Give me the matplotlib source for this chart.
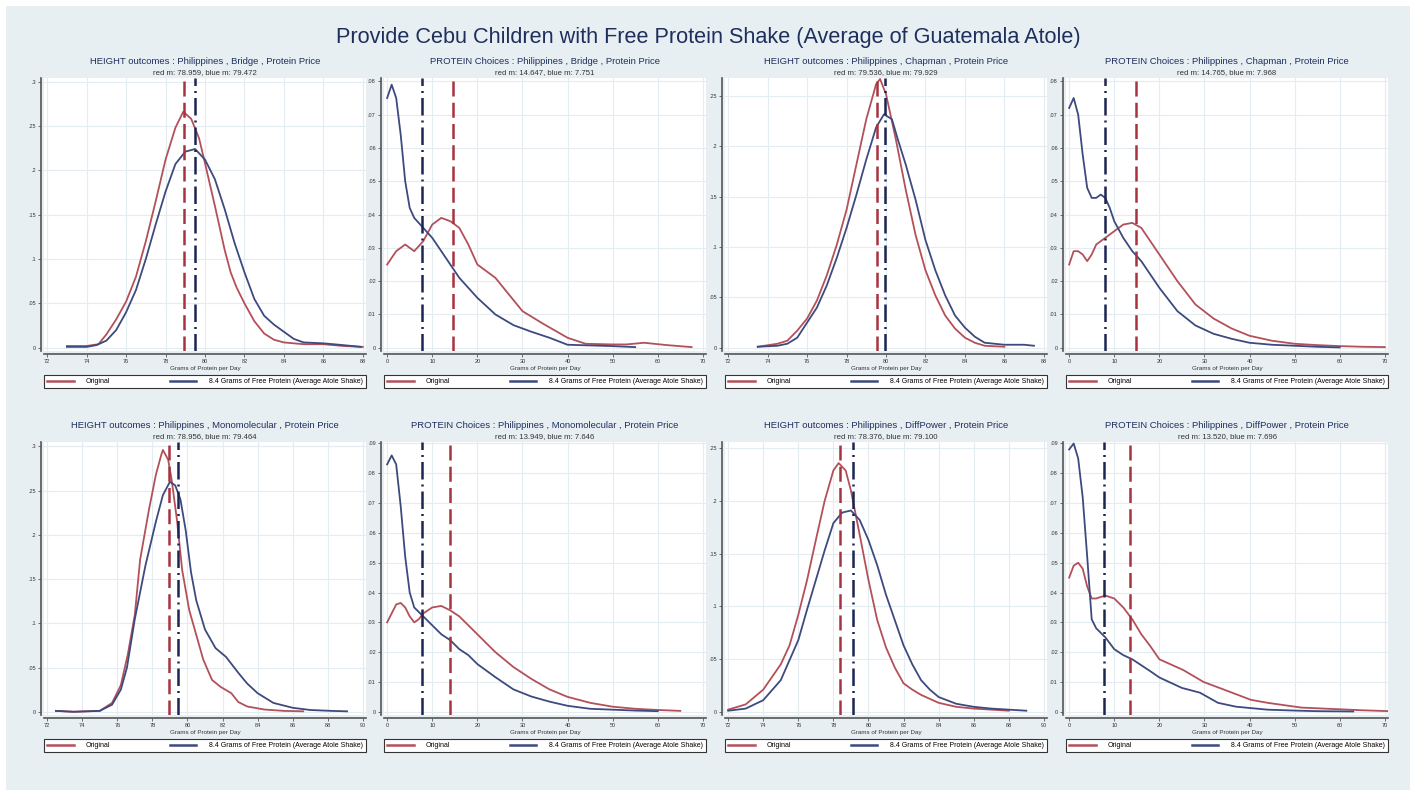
import matplotlib
matplotlib.use('Agg')
import matplotlib.pyplot as plt
from matplotlib.patches import Rectangle

plt.rcParams['font.family'] = ['Liberation Sans', 'DejaVu Sans']

# ---- data (kernel density curves) ----
main_title = "Provide Cebu Children with Free Protein Shake (Average of Guatemala Atole)"
legend_labels = ["Original", "8.4 Grams of Free Protein (Average Atole Shake)"]
x_label = "Grams of Protein per Day"

titles = [
    "HEIGHT outcomes : Philippines , Bridge , Protein Price",
    "PROTEIN Choices : Philippines , Bridge , Protein Price",
    "HEIGHT outcomes : Philippines , Chapman , Protein Price",
    "PROTEIN Choices : Philippines , Chapman , Protein Price",
    "HEIGHT outcomes : Philippines , Monomolecular , Protein Price",
    "PROTEIN Choices : Philippines , Monomolecular , Protein Price",
    "HEIGHT outcomes : Philippines , DiffPower , Protein Price",
    "PROTEIN Choices : Philippines , DiffPower , Protein Price",
]
red_means = [78.959, 14.647, 79.536, 14.765, 78.956, 13.949, 78.376, 13.520]
blue_means = [79.472, 7.751, 79.929, 7.968, 79.464, 7.646, 79.100, 7.696]

# Bridge - height
bh_red_x = [73.0, 74.0, 74.6, 75.0, 75.5, 76.0, 76.5, 77.0, 77.5, 78.0, 78.5, 78.9, 79.3, 79.7, 80.0,
            80.5, 81.0, 81.3, 81.6, 82.0, 82.5, 83.0, 83.5, 84.0, 85.0, 86.0, 87.0, 88.0]
bh_red_y = [.002, .002, .004, .015, .032, .052, .08, .12, .165, .212, .248, .266, .258, .236, .208,
            .16, .11, .085, .068, .05, .03, .016, .009, .006, .004, .004, .002, .001]
bh_blue_x = [73.0, 74.0, 74.5, 75.0, 75.5, 76.0, 76.5, 77.0, 77.5, 78.0, 78.5, 79.0, 79.5, 80.0,
             80.5, 81.0, 81.5, 82.0, 82.5, 83.0, 83.5, 84.0, 84.5, 85.0, 86.0, 87.0, 87.9]
bh_blue_y = [.001, .001, .003, .008, .02, .04, .065, .10, .139, .176, .207, .221, .224, .212,
             .19, .156, .118, .085, .055, .036, .026, .018, .01, .006, .005, .003, .001]

# Bridge - protein
bp_red_x = [0, 2, 4, 5, 6, 8, 10, 12, 14, 16, 18, 20, 22, 24, 27, 30, 34.6, 40, 44, 50, 53, 57, 62, 67.5]
bp_red_y = [.025, .029, .031, .030, .029, .032, .037, .039, .038, .036, .031, .025, .023, .021, .016,
            .011, .0072, .003, .0012, .001, .001, .0015, .0008, .0002]
bp_blue_x = [0, 1, 2, 3, 4, 5, 6, 8, 10, 12, 14, 16, 18, 20, 24, 28, 32, 36, 40, 45, 50, 55]
bp_blue_y = [.075, .079, .075, .064, .050, .042, .039, .036, .033, .029, .025, .021, .018, .015,
             .010, .0068, .0048, .003, .0009, .0007, .0005, .0002]

# Chapman - height
ch_red_x = [73.5, 74.5, 75, 75.5, 76, 76.5, 77, 77.5, 78, 78.5, 79, 79.5, 79.7, 80, 80.5, 81, 81.5,
            82, 82.5, 83, 83.5, 84, 84.5, 85, 86]
ch_red_y = [.001, .004, .007, .017, .029, .047, .072, .102, .137, .182, .227, .262, .267, .252, .207,
            .157, .112, .077, .052, .032, .019, .010, .005, .002, .001]
ch_blue_x = [73.5, 74.5, 75, 75.5, 76, 76.5, 77, 77.5, 78, 78.5, 79, 79.5, 79.9, 80.3, 80.6, 81,
             81.5, 82, 82.5, 83, 83.5, 84, 84.5, 85, 86, 87, 87.5]
ch_blue_y = [.001, .002, .004, .01, .025, .04, .062, .089, .119, .152, .187, .219, .232, .227, .207,
             .182, .147, .107, .077, .052, .032, .02, .011, .005, .003, .003, .002]

# Chapman - protein
cp_red_x = [0, 1, 2, 3, 4, 5, 6, 8, 10, 12, 14, 16, 18, 20, 24, 28, 32, 36, 40, 45, 50, 55, 60, 65, 70]
cp_red_y = [.025, .029, .029, .028, .026, .028, .031, .033, .035, .037, .0375, .036, .032, .028, .020,
            .013, .0088, .0058, .0036, .0021, .0012, .0008, .0005, .0003, .0002]
cp_blue_x = [0, 1, 2, 3, 4, 5, 6, 7, 8, 9, 10, 12, 14, 16, 18, 20, 24, 28, 32, 36, 40, 45, 50, 55, 60]
cp_blue_y = [.072, .075, .070, .058, .048, .045, .045, .046, .045, .042, .038, .033, .029, .026, .022,
             .018, .011, .0067, .0042, .0027, .0015, .0009, .0006, .0003, .0001]

# Monomolecular - height
mh_red_x = [72.5, 73.5, 75.0, 75.7, 76.2, 76.6, 77.0, 77.3, 77.8, 78.2, 78.5, 78.6, 78.9, 79.1, 79.4,
            79.7, 80.1, 80.5, 80.9, 81.4, 81.9, 82.5, 82.9, 83.4, 84.4, 85.5, 86.6]
mh_red_y = [.001, .0, .001, .01, .03, .065, .11, .172, .228, .268, .29, .296, .285, .262, .217,
            .16, .115, .087, .059, .036, .028, .021, .011, .006, .0025, .001, .0005]
mh_blue_x = [72.5, 73.5, 75.0, 75.7, 76.2, 76.55, 77.0, 77.6, 78.2, 78.6, 79.0, 79.3, 79.6, 79.9,
             80.2, 80.5, 81.0, 81.6, 82.2, 82.9, 83.4, 84.0, 84.9, 86.0, 87.0, 88.2, 89.1]
mh_blue_y = [.001, .0, .001, .008, .025, .05, .105, .165, .215, .245, .26, .256, .24, .205,
             .158, .126, .093, .072, .062, .044, .032, .021, .01, .0045, .002, .001, .0005]

# Monomolecular - protein
mp_red_x = [0, 1, 2, 3, 4, 5, 6, 7, 8, 10, 12, 14, 16, 18, 20, 24, 28, 32, 36, 40, 45, 50, 55, 60, 65]
mp_red_y = [.030, .033, .036, .0365, .035, .032, .030, .031, .033, .035, .0355, .034, .032, .029, .026,
            .020, .015, .011, .0075, .005, .003, .0017, .001, .0006, .0003]
mp_blue_x = [0, 1, 2, 3, 4, 5, 6, 8, 10, 12, 14, 16, 18, 20, 24, 28, 32, 36, 40, 45, 50, 55, 60]
mp_blue_y = [.083, .086, .083, .069, .052, .040, .035, .032, .029, .026, .024, .021, .019, .016,
             .0116, .0075, .0051, .0034, .002, .001, .0007, .0004, .0002]

# DiffPower - height
dh_red_x = [72, 73, 74, 75, 75.5, 76, 76.5, 77, 77.5, 78, 78.3, 78.7, 79, 79.5, 80, 80.5, 81, 81.5,
            82, 82.5, 83, 84, 85, 86, 87, 88]
dh_red_y = [.002, .007, .021, .045, .063, .092, .125, .163, .20, .229, .236, .229, .21, .168, .125,
            .087, .061, .042, .027, .021, .016, .0085, .0047, .003, .002, .001]
dh_blue_x = [72, 73, 74, 75, 76, 76.5, 77, 77.5, 78, 78.5, 79, 79.5, 80, 80.5, 81, 81.5, 82, 82.5,
             83, 83.5, 84, 85, 86, 87, 88, 89]
dh_blue_y = [.001, .003, .011, .03, .068, .097, .125, .153, .179, .189, .191, .182, .163, .139, .111,
             .087, .063, .045, .030, .021, .014, .0076, .0047, .003, .002, .001]

# DiffPower - protein
dp_red_x = [0, 1, 2, 3, 4, 5, 6, 8, 10, 12, 14, 16, 18, 20, 25.3, 29.8, 34.2, 40.3, 44, 51.5, 59, 65, 71]
dp_red_y = [.045, .049, .05, .048, .042, .038, .038, .039, .038, .035, .031, .026, .022, .0176, .014,
            .010, .0075, .004, .003, .0014, .0009, .0005, .0002]
dp_blue_x = [0, 1, 2, 3, 4, 5, 6, 8, 10, 12, 14, 16, 18, 20, 25, 29, 33, 37, 44, 50, 55, 63]
dp_blue_y = [.088, .09, .085, .072, .052, .031, .028, .025, .021, .019, .0176, .0156, .0136, .0115,
             .008, .0064, .003, .0017, .0007, .0004, .0002, .0001]

red_curves = [(bh_red_x, bh_red_y), (bp_red_x, bp_red_y), (ch_red_x, ch_red_y), (cp_red_x, cp_red_y),
              (mh_red_x, mh_red_y), (mp_red_x, mp_red_y), (dh_red_x, dh_red_y), (dp_red_x, dp_red_y)]
blue_curves = [(bh_blue_x, bh_blue_y), (bp_blue_x, bp_blue_y), (ch_blue_x, ch_blue_y), (cp_blue_x, cp_blue_y),
               (mh_blue_x, mh_blue_y), (mp_blue_x, mp_blue_y), (dh_blue_x, dh_blue_y), (dp_blue_x, dp_blue_y)]

# axis ticks per panel
x_ticks = [list(range(72, 89, 2)), list(range(0, 71, 10)), list(range(72, 89, 2)), list(range(0, 71, 10)),
           list(range(72, 91, 2)), list(range(0, 71, 10)), list(range(72, 91, 2)), list(range(0, 71, 10))]
y_ticks = [[0, .05, .1, .15, .2, .25, .3], [i / 100 for i in range(9)],
           [0, .05, .1, .15, .2, .25], [i / 100 for i in range(9)],
           [0, .05, .1, .15, .2, .25, .3], [i / 100 for i in range(10)],
           [0, .05, .1, .15, .2, .25], [i / 100 for i in range(10)]]
y_tops = [.304, .081, .268, .081, .305, .0905, .256, .0905]

# ---- styling ----
RED = '#b3505a'
BLUE = '#3d4a7e'
RED_V = '#a8323e'
BLUE_V = '#1c2552'
BG = '#e8eff3'
GRID = '#e3ecf0'
TXT = '#1e2f5c'

W, H = 1416, 796
fig = plt.figure(figsize=(W / 100, H / 100), dpi=100, facecolor='white')
fig.patches.append(Rectangle((6 / W, 6 / H), 1 - 12 / W, 1 - 12 / H, transform=fig.transFigure,
                             facecolor=BG, edgecolor='none', zorder=-10))
fig.text(0.5, 1 - 38 / H, main_title, ha='center', va='center', fontsize=15.6, color=TXT)

col_left = [44, 384, 725, 1066]
row_top = [78, 442]
aw, ah = 322, 273


def fmt_tick(v):
    if v == 0:
        return '0'
    s = ('%.2f' % v).rstrip('0')
    return s[1:] if s.startswith('0') else s


for i in range(8):
    r, c = divmod(i, 4)
    ax = fig.add_axes([col_left[c] / W, 1 - (row_top[r] + ah) / H, aw / W, ah / H])
    ax.set_facecolor('white')

    xr, yr = red_curves[i]
    xb, yb = blue_curves[i]
    ax.plot(xr, yr, color=RED, lw=1.3, label=legend_labels[0], zorder=3)
    ax.plot(xb, yb, color=BLUE, lw=1.3, label=legend_labels[1], zorder=3)
    ax.axvline(red_means[i], color=RED_V, lw=1.8, dashes=(6, 2.5), zorder=4)
    ax.axvline(blue_means[i], color=BLUE_V, lw=1.8, dashes=(7, 2, 0.8, 2), zorder=4)

    xt = x_ticks[i]
    pad = (xt[-1] - xt[0]) * 0.01
    ax.set_xlim(xt[0] - pad, xt[-1] + pad)
    ax.set_ylim(-y_tops[i] * 0.012, y_tops[i])
    ax.set_xticks(xt)
    ax.set_xticklabels([str(v) for v in xt])
    ax.set_yticks(y_ticks[i])
    ax.set_yticklabels([fmt_tick(v) for v in y_ticks[i]], rotation=90, va='center')
    ax.tick_params(length=2.5, width=0.6, pad=1.5, colors='#555555', labelsize=4,
                   labelcolor='#333333')
    ax.grid(True, color=GRID, lw=0.8)
    ax.set_axisbelow(True)
    for s in ['top', 'right']:
        ax.spines[s].set_visible(False)
    for s in ['left', 'bottom']:
        ax.spines[s].set_color('#555555')
        ax.spines[s].set_linewidth(1.2)
        ax.spines[s].set_position(('outward', 2))
    ax.set_xlabel(x_label, fontsize=4.5, color='#333333', labelpad=1)

    ax.annotate(titles[i], xy=(0.5, 1), xycoords='axes fraction', xytext=(0, 12),
                textcoords='offset points', ha='center', va='center', fontsize=6.8, color=TXT)
    sub = 'red m: %.3f, blue m: %.3f' % (red_means[i], blue_means[i])
    ax.annotate(sub, xy=(0.5, 1), xycoords='axes fraction', xytext=(0, 3.8),
                textcoords='offset points', ha='center', va='center', fontsize=5.6, color='#333333')

    leg = ax.legend(loc='center', bbox_to_anchor=(0.0, -0.14, 1.0, 0.056), mode='expand', ncol=2,
                    fontsize=5.0, handlelength=3.8, handletextpad=1.8, borderaxespad=0,
                    borderpad=0.45, fancybox=False, framealpha=1, edgecolor='#333333')
    leg.get_frame().set_linewidth(0.8)
    for line in leg.get_lines():
        line.set_linewidth(1.8)

fig.savefig('out.png', dpi=100, facecolor=fig.get_facecolor())
